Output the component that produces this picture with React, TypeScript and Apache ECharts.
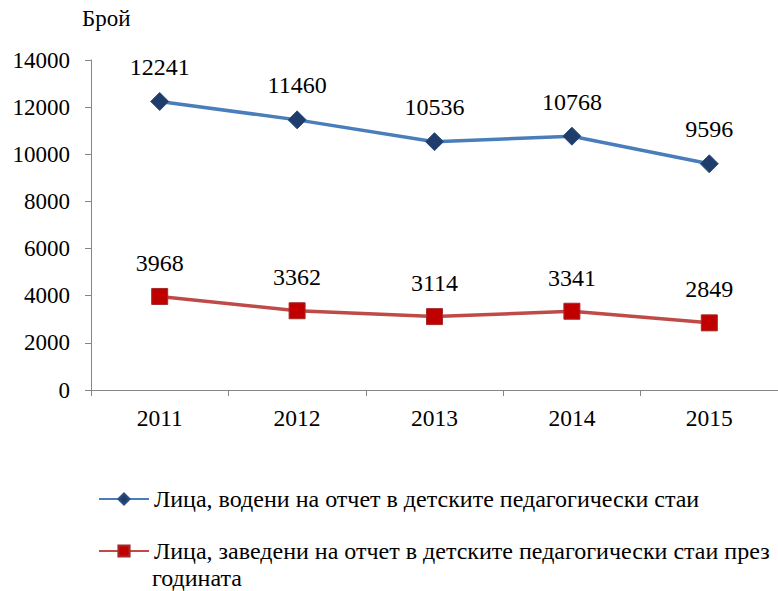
import React, { useEffect, useRef } from "react";
import * as echarts from "echarts";

const years = ["2011", "2012", "2013", "2014", "2015"];
const seriesA = [12241, 11460, 10536, 10768, 9596];
const seriesB = [3968, 3362, 3114, 3341, 2849];
const nameA = "Лица, водени на отчет в детските педагогически стаи";
const nameB = "Лица, заведени на отчет в детските педагогически стаи през";
const nameBLine2 = "годината";
const yTitle = "Брой";

const FONT = "Liberation Serif";

export default function App() {
  const ref = useRef<HTMLDivElement>(null);
  useEffect(() => {
    document.body.style.margin = "0";
    if (!ref.current) return;
    const chart = echarts.init(ref.current, undefined, { renderer: "svg" });
    chart.setOption({
      animation: false,
      backgroundColor: "#ffffff",
      textStyle: { fontFamily: FONT, color: "#000" },
      title: {
        text: yTitle,
        left: 82,
        top: 7,
        padding: 0,
        textStyle: { fontFamily: FONT, fontSize: 23, fontWeight: "normal", color: "#000" },
      },
      grid: { left: 91, right: 0, top: 60, bottom: 201, containLabel: false },
      xAxis: {
        type: "category",
        data: years,
        boundaryGap: true,
        axisLine: { lineStyle: { color: "#868686", width: 1 } },
        axisTick: { show: true, length: 6, lineStyle: { color: "#868686" } },
        axisLabel: { fontFamily: FONT, fontSize: 23.5, color: "#000", margin: 16 },
        splitLine: { show: false },
      },
      yAxis: {
        type: "value",
        min: 0,
        max: 14000,
        interval: 2000,
        axisLine: { show: true, lineStyle: { color: "#868686", width: 1 } },
        axisTick: { show: true, length: 6, lineStyle: { color: "#868686" } },
        axisLabel: {
          fontFamily: FONT,
          fontSize: 23,
          color: "#000",
          margin: 21,
          formatter: (v: number) => String(v),
        },
        splitLine: { show: false },
      },
      legend: [
        {
          data: [nameA],
          left: 98,
          top: 487,
          padding: 0,
          itemWidth: 50,
          itemHeight: 14,
          itemGap: 0,
          itemTextGap: 4,
          selectedMode: false,
          textStyle: { fontFamily: FONT, fontSize: 24, color: "#000" },
        },
        {
          data: [nameB],
          left: 98,
          top: 539,
          padding: 0,
          itemWidth: 50,
          itemHeight: 14,
          itemGap: 0,
          itemTextGap: 4,
          selectedMode: false,
          textStyle: { fontFamily: FONT, fontSize: 24, color: "#000" },
        },
      ],
      graphic: [
        {
          type: "text",
          left: 152,
          top: 566,
          style: { text: nameBLine2, font: `24px ${FONT}`, fill: "#000" },
        },
      ],
      series: [
        {
          name: nameA,
          type: "line",
          data: seriesA,
          symbol: "diamond",
          symbolSize: 18,
          lineStyle: { color: "#4A7EBB", width: 3.5 },
          itemStyle: { color: "#1F3D6B", borderColor: "#2B4E80", borderWidth: 1 },
          label: {
            show: true,
            position: "top",
            distance: 13,
            fontFamily: FONT,
            fontSize: 24,
            color: "#000",
          },
        },
        {
          name: nameB,
          type: "line",
          data: seriesB,
          symbol: "rect",
          symbolSize: 16,
          lineStyle: { color: "#BE4B48", width: 3.5 },
          itemStyle: { color: "#C00000", borderColor: "#A52A2A", borderWidth: 1 },
          label: {
            show: true,
            position: "top",
            distance: 13,
            fontFamily: FONT,
            fontSize: 24,
            color: "#000",
          },
        },
      ],
    });
    return () => chart.dispose();
  }, []);
  return <div ref={ref} style={{ width: 778, height: 591 }} />;
}
